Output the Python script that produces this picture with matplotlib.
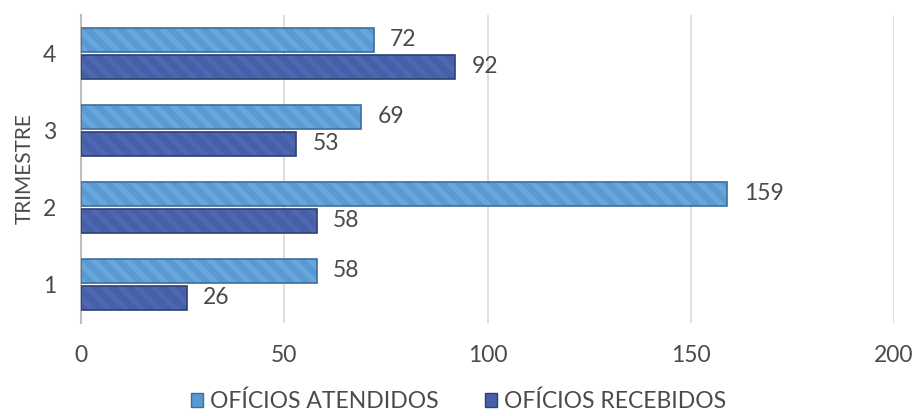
import numpy as np
import matplotlib.pyplot as plt
from matplotlib.patches import Patch

# dados
trimestres = ["1", "2", "3", "4"]
atendidos = [58, 159, 69, 72]
recebidos = [26, 58, 53, 92]

cor_atend = "#5A9AD3"
cor_receb = "#4660A8"
texto = "#4A4A4A"

plt.rcParams['font.family'] = ['Lato', 'DejaVu Sans']
plt.rcParams['hatch.linewidth'] = 4.0

fig = plt.figure(figsize=(9.17, 4.16), dpi=100)
ax = fig.add_axes([0.0883, 0.224, 0.8867, 0.74])

y = np.arange(len(trimestres))
h = 0.31
off = 0.175

ax.barh(y + off, atendidos, height=h, color=cor_atend, edgecolor="#68A6DC",
        hatch="\\\\", linewidth=0, zorder=3)
ax.barh(y - off, recebidos, height=h, color=cor_receb, edgecolor="#4D67B0",
        hatch="\\\\", linewidth=0, zorder=3)
# contorno sombreado
ax.barh(y + off, atendidos, height=h, fill=False, edgecolor="#3B6E9E", linewidth=1.2, zorder=4)
ax.barh(y - off, recebidos, height=h, fill=False, edgecolor="#2E3F72", linewidth=1.2, zorder=4)

for yy, v in zip(y + off, atendidos):
    ax.text(v + 4.0, yy, str(v), va="center", ha="left", fontsize=16.5, color=texto)
for yy, v in zip(y - off, recebidos):
    ax.text(v + 4.0, yy, str(v), va="center", ha="left", fontsize=16.5, color=texto)

ax.set_xlim(0, 200)
ax.set_ylim(-0.5, 3.5)
ax.set_xticks([0, 50, 100, 150, 200])
ax.set_yticks(y)
ax.set_yticklabels(trimestres)
ax.tick_params(axis="both", length=0, labelsize=16.5, labelcolor=texto)
ax.tick_params(axis="x", pad=16)
ax.tick_params(axis="y", pad=18)
ax.set_ylabel("TRIMESTRE", fontsize=15, color=texto, labelpad=6)

ax.grid(axis="x", color="#D9D9D9", linewidth=1.2, zorder=0)
for s in ["top", "right", "bottom"]:
    ax.spines[s].set_visible(False)
ax.spines["left"].set_color("#BFBFBF")
ax.spines["left"].set_linewidth(1.5)

handles = [Patch(facecolor=cor_atend, edgecolor="#3B6E9E"),
           Patch(facecolor=cor_receb, edgecolor="#2E3F72")]
fig.legend(handles, ["OFÍCIOS ATENDIDOS", "OFÍCIOS RECEBIDOS"], loc="lower center",
           ncol=2, frameon=False, fontsize=16.5, labelcolor=texto, handlelength=0.55,
           handleheight=0.55, handletextpad=0.3, columnspacing=2.0,
           bbox_to_anchor=(0.5, -0.04))

fig.savefig("out.png", dpi=100)
